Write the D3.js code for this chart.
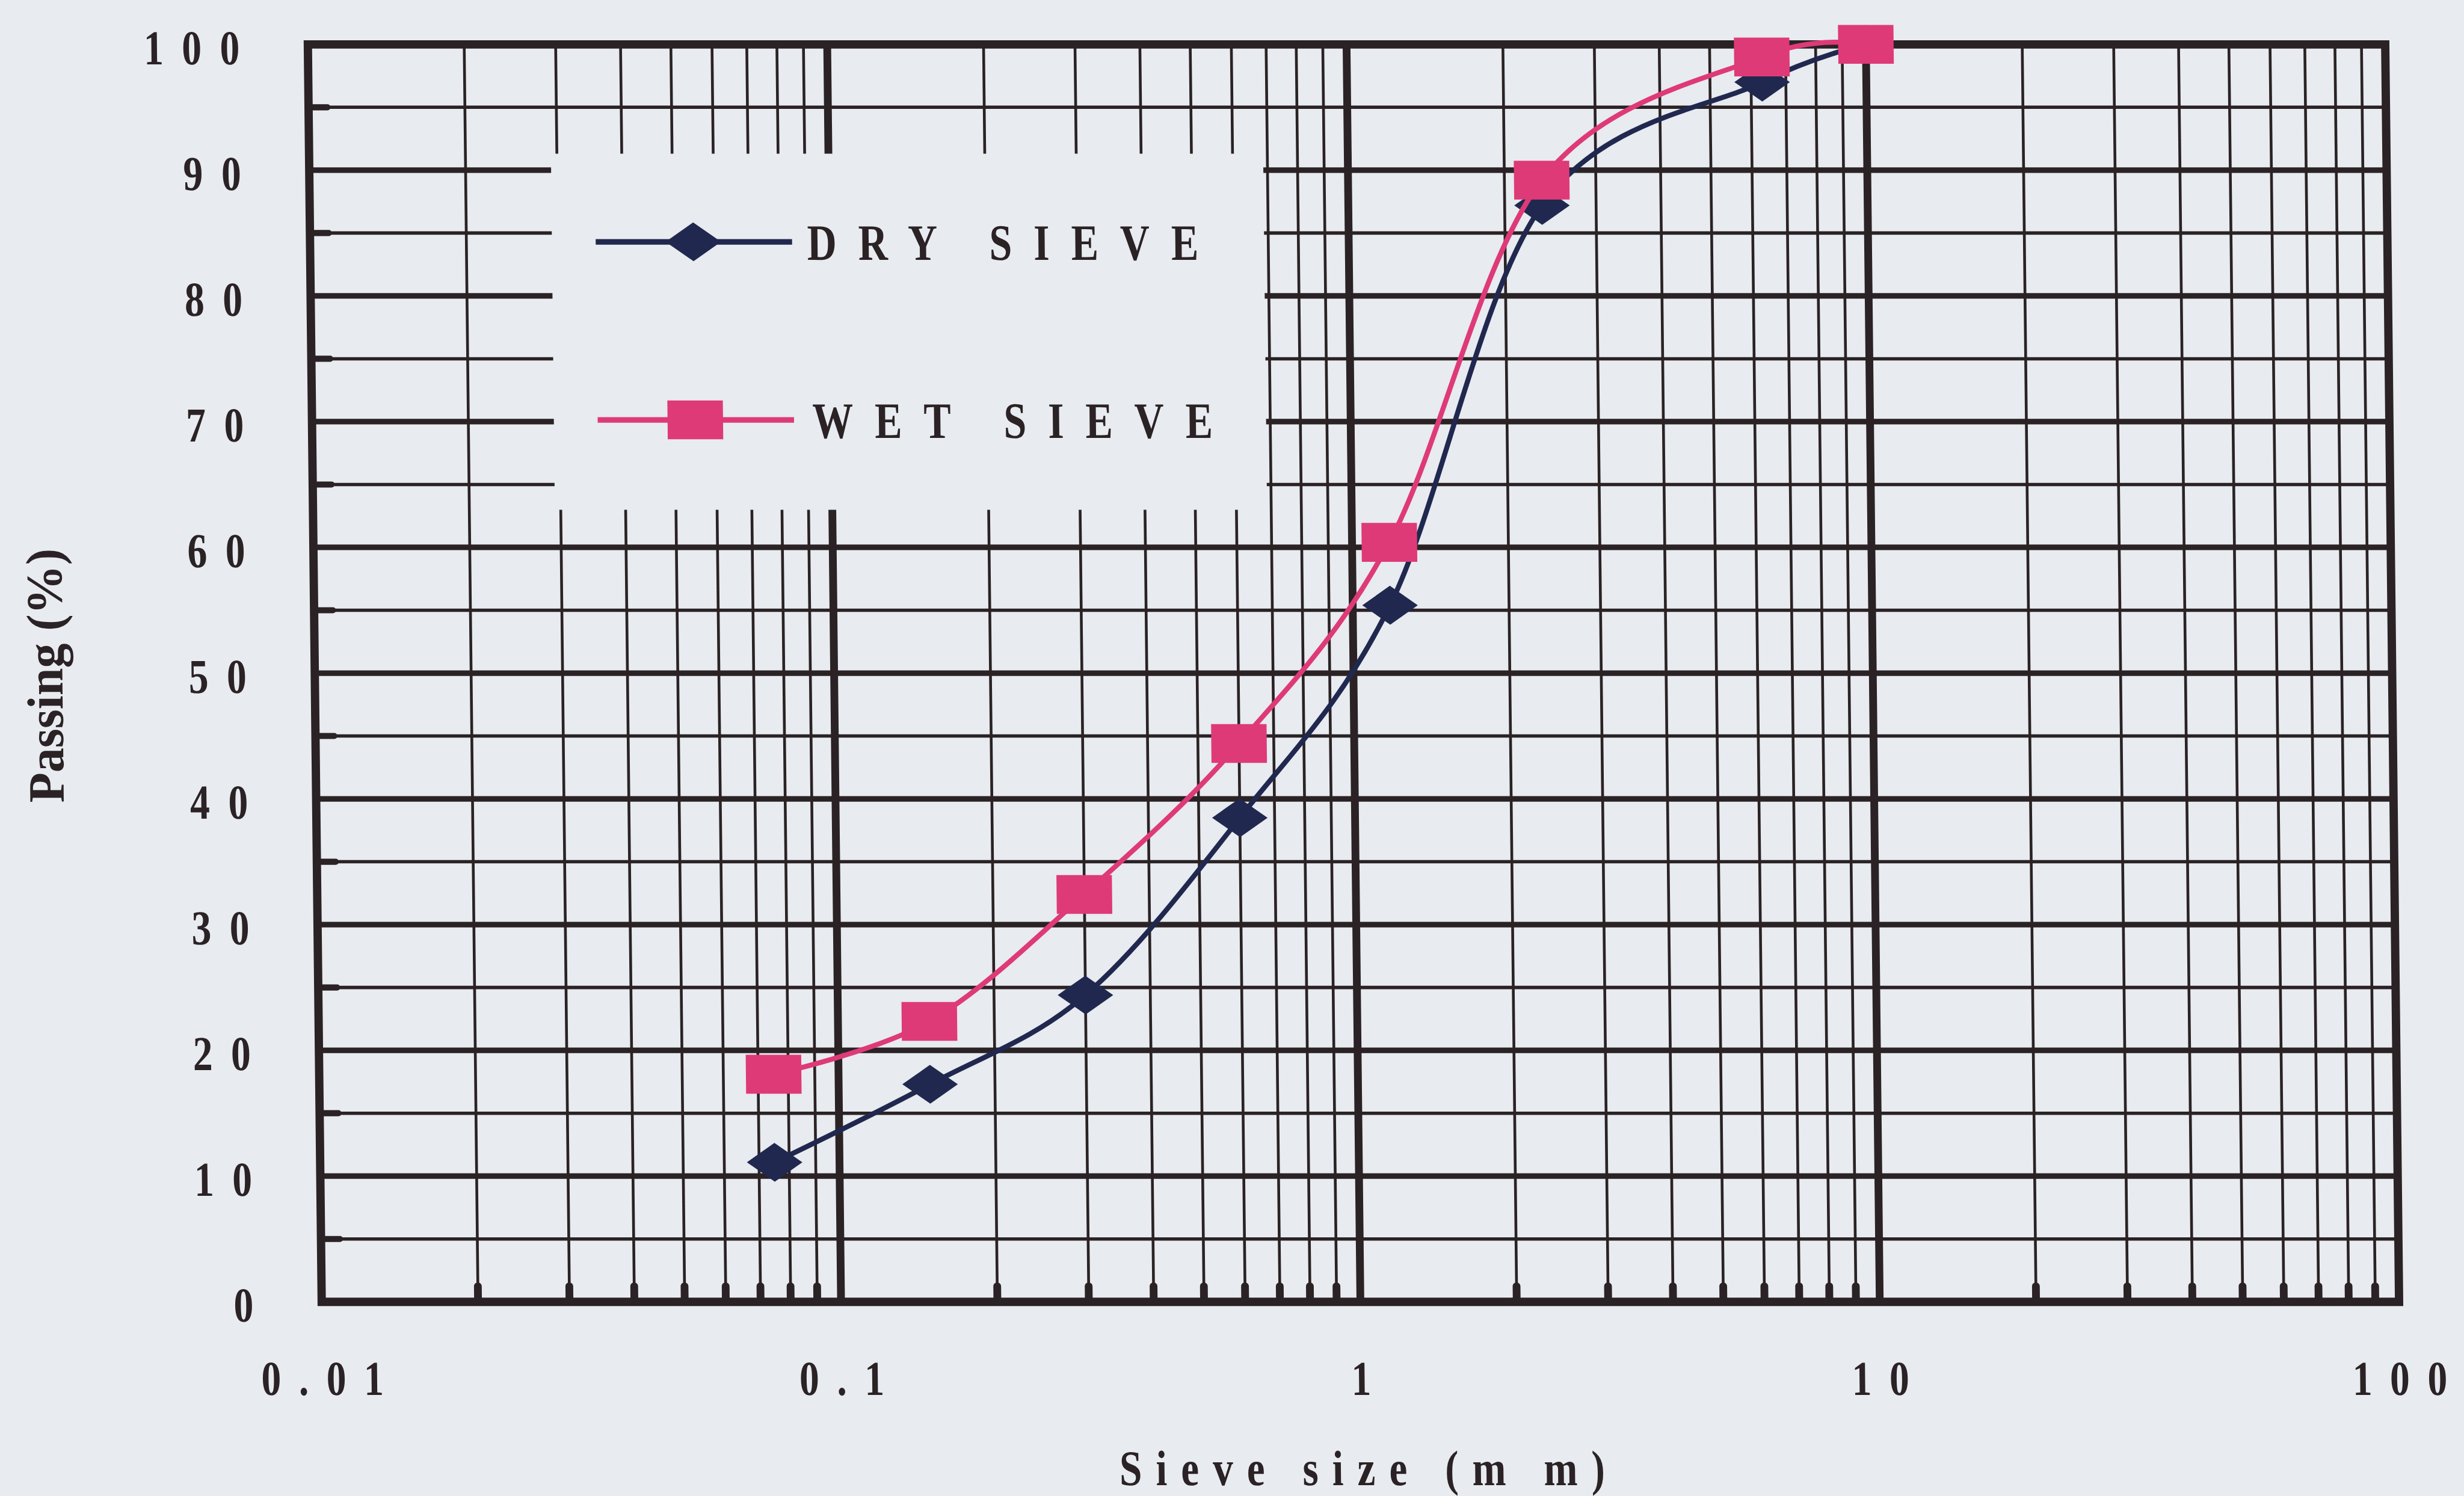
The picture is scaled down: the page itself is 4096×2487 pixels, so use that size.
<!DOCTYPE html>
<html>
<head>
<meta charset="utf-8">
<script src="https://cdn.jsdelivr.net/npm/d3@7/dist/d3.min.js"></script>
<style>
  html, body { margin: 0; padding: 0; background: #e8ebef; overflow: hidden; }
  svg { display: block; }
  text { font-family: 'Liberation Serif', 'Times New Roman', serif; font-weight: bold; fill: #2a2224; }
</style>
</head>
<body>
<div id="chart"></div>
<script>
// sieve sizes (mm) and % passing
const sieveSizes = [0.075, 0.15, 0.3, 0.6, 1.18, 2.36, 6.3, 10]
const dryPassing = [11.1, 17.3, 24.4, 38.5, 55.4, 87.2, 97.0, 100]
const wetPassing = [18.1, 22.3, 32.4, 44.4, 60.4, 89.2, 99.0, 100]
const seriesNames = ['DRY SIEVE', 'WET SIEVE']
const xTickValues = [0.01, 0.1, 1, 10, 100]
const xTickLabels = ['0.01', '0.1', '1', '10', '100']
const yTickValues = [0, 10, 20, 30, 40, 50, 60, 70, 80, 90, 100]
const xTitle = 'Sieve size (m m)'
const yTitle = 'Passing (%)'

// drawing is done in the reference's own pixel space, the viewBox shrinks it to the window
const W = 4442
const H = 2697
const plot = { left: 555, right: 4300, top: 80, bottom: 2347 }
const ink = '#2a2224'
const bg = '#e8ebef'
const dryColor = '#20284f'
const wetColor = '#de3a78'
// the scan leans a little: vertical lines drift right towards the bottom
const lean = 0.011

const svg = d3.select('#chart')
  .append('svg')
  .attr('width', 4096)
  .attr('height', 2487)
  .attr('viewBox', [0, 0, W, H])

svg.append('rect').attr('width', W).attr('height', H).attr('fill', bg)

const g = svg.append('g')
  .attr('transform', `matrix(1,0,${lean},1,${-lean * plot.top},0)`)

const x = d3.scaleLog().domain([0.01, 100]).range([plot.left, plot.right])
const y = d3.scaleLinear().domain([0, 100]).range([plot.bottom, plot.top])

const isDecade = v => Math.abs(Math.log10(v) - Math.round(Math.log10(v))) < 1e-6
const minorX = x.ticks().filter(v => !isDecade(v))
const majorX = xTickValues.slice(1, -1)
const minorY = d3.range(5, 100, 10)
const majorY = yTickValues.slice(1, -1)

/**
 * text helper: the scanned lettering is narrower than Liberation Serif,
 * so glyphs get squeezed horizontally by sx. Spacing goes through dx,
 * so there is no trailing gap after the last glyph.
 */
function addText (parent, opts) {
  const { x, y, text, size, ls = 0, anchor = 'start', sx = 0.81, rotate = 0 } = opts
  const gaps = Array.from(text).map((c, i) => i === 0 ? 0 : ls / sx)
  return parent.append('text')
    .attr('transform', `translate(${x},${y}) rotate(${rotate}) scale(${sx},1)`)
    .attr('text-anchor', anchor)
    .attr('dx', gaps.join(' '))
    .style('font-size', `${size}px`)
    .text(text)
}

// grid
const grid = g.append('g').attr('stroke', ink).attr('fill', 'none')

grid.selectAll('.minor-x')
  .data(minorX)
  .enter().append('line')
    .attr('x1', d => x(d)).attr('x2', d => x(d))
    .attr('y1', plot.top).attr('y2', plot.bottom)
    .attr('stroke-width', 5)

grid.selectAll('.minor-y')
  .data(minorY)
  .enter().append('line')
    .attr('x1', plot.left).attr('x2', plot.right)
    .attr('y1', d => y(d)).attr('y2', d => y(d))
    .attr('stroke-width', 6)

grid.selectAll('.major-y')
  .data(majorY)
  .enter().append('line')
    .attr('x1', plot.left).attr('x2', plot.right)
    .attr('y1', d => y(d)).attr('y2', d => y(d))
    .attr('stroke-width', 10)

grid.selectAll('.major-x')
  .data(majorX)
  .enter().append('line')
    .attr('x1', d => x(d)).attr('x2', d => x(d))
    .attr('y1', plot.top).attr('y2', plot.bottom)
    .attr('stroke-width', 14)

// short minor tick stubs inside the frame
grid.selectAll('.stub-y')
  .data(minorY)
  .enter().append('line')
    .attr('x1', plot.left).attr('x2', plot.left + 34)
    .attr('y1', d => y(d)).attr('y2', d => y(d))
    .attr('stroke-width', 11)
    .attr('stroke-linecap', 'round')

grid.selectAll('.stub-x')
  .data(minorX)
  .enter().append('line')
    .attr('x1', d => x(d)).attr('x2', d => x(d))
    .attr('y1', plot.bottom).attr('y2', plot.bottom - 28)
    .attr('stroke-width', 14)
    .attr('stroke-linecap', 'round')

// legend sits on a plain patch that hides the grid
const legendBox = { x: 991, y: 277, w: 1284, h: 642 }
g.append('rect')
  .attr('x', legendBox.x).attr('y', legendBox.y)
  .attr('width', legendBox.w).attr('height', legendBox.h)
  .attr('fill', bg)

// frame
g.append('rect')
  .attr('x', plot.left).attr('y', plot.top)
  .attr('width', plot.right - plot.left).attr('height', plot.bottom - plot.top)
  .attr('fill', 'none')
  .attr('stroke', ink)
  .attr('stroke-width', 15)

// markers: the chart was stretched, so markers are wider than tall
const mw = 50
const mh = 35
const diamond = `M0,${-mh}L${mw},0L0,${mh}L${-mw},0Z`

const line = d3.line()
  .x(d => x(d[0]))
  .y(d => y(d[1]))
  .curve(d3.curveCardinal.tension(0))

const series = [
  { name: seriesNames[0], values: dryPassing, color: dryColor, shape: 'diamond' },
  { name: seriesNames[1], values: wetPassing, color: wetColor, shape: 'square' }
]

function drawMarker (parent, shape, color, cx, cy) {
  if (shape === 'diamond') {
    parent.append('path')
      .attr('d', diamond)
      .attr('transform', `translate(${cx},${cy})`)
      .attr('fill', color)
  } else {
    parent.append('rect')
      .attr('x', cx - mw).attr('y', cy - mh)
      .attr('width', mw * 2).attr('height', mh * 2)
      .attr('fill', color)
  }
}

series.forEach(s => {
  const pts = sieveSizes.map((v, i) => [v, s.values[i]])
  const sg = g.append('g')
  sg.append('path')
    .attr('d', line(pts))
    .attr('fill', 'none')
    .attr('stroke', s.color)
    .attr('stroke-width', 9)
  pts.forEach(p => drawMarker(sg, s.shape, s.color, x(p[0]), y(p[1])))
})

// legend entries
const legendRows = [
  { y: 436, textY: 468, textX: 1451 },
  { y: 757, textY: 789, textX: 1457 }
]
series.forEach((s, i) => {
  const row = legendRows[i]
  const lg = g.append('g')
  lg.append('line')
    .attr('x1', 1070).attr('x2', 1424)
    .attr('y1', row.y).attr('y2', row.y)
    .attr('stroke', s.color)
    .attr('stroke-width', 10)
  drawMarker(lg, s.shape, s.color, 1246, row.y)
  addText(lg, { x: row.textX, y: row.textY, text: s.name, size: 92, ls: 39, sx: 0.8 })
})

// axis labels
const labels = g.append('g')

yTickValues.forEach(v => {
  addText(labels, { x: 432, y: y(v) + 36, text: String(v), size: 88, ls: 33, anchor: 'end' })
})

xTickValues.forEach((v, i) => {
  addText(labels, { x: x(v), y: 2515, text: xTickLabels[i], size: 88, ls: 32, anchor: 'middle' })
})

addText(labels, { x: (plot.left + plot.right) / 2, y: 2677, text: xTitle, size: 90, ls: 25, anchor: 'middle' })
addText(labels, { x: 100, y: 1218, text: yTitle, size: 92, sx: 0.97, anchor: 'middle', rotate: -90 })
</script>
</body>
</html>
